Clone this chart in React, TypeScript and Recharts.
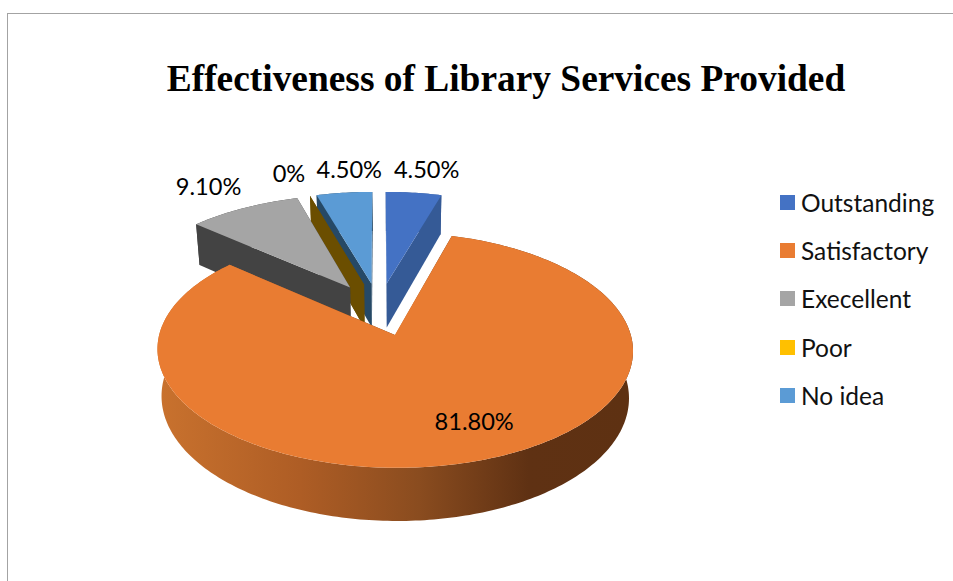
import React from 'react'
import { PieChart, Pie, Legend } from 'recharts'

// Categories in legend order, with their shares in percent
const categories = ['Outstanding', 'Satisfactory', 'Execellent', 'Poor', 'No idea']
const shares = [4.5, 81.8, 9.1, 0, 4.5]
const faceColors = ['#4472c4', '#e97c32', '#a5a5a5', '#ffc000', '#5b9bd5']
const wallColors = ['#355a96', 'url(#orangeWall)', '#434343', '#6b4e00', '#264966']

// Label nudges from the projected rim midpoint of each slice
const labelNudge: Record<string, [number, number]> = {
  Outstanding: [13, -24],
  Satisfactory: [1, -41],
  Execellent: [-35, -22],
  Poor: [-21, -23],
  'No idea': [5, -24],
}

// Painted counter-clockwise from 12 o'clock, so the large slice covers the ones behind it
const pieData = categories
  .map((name, i) => ({ name, value: shares[i], fill: faceColors[i], wall: wallColors[i] }))
  .reverse()

const WIDTH = 953
const HEIGHT = 581

// 3D look of the pie: perspective tilt, explode distance, thickness
const SQUASH = 0.477
const PERSPECTIVE = 0.125
const EXPLODE = 0.24
const THICKNESS = 45
const BOTTOM_SCALE = 0.983
const VANISH_X = 396

const rad = (deg: number) => (deg * Math.PI) / 180

function projector(cx: number, cy: number, radius: number) {
  const top = (u: number, v: number): [number, number] => {
    const w = 1 + PERSPECTIVE * v
    return [cx + (radius * u) / w, cy - (radius * SQUASH * v) / w]
  }
  const bottom = (u: number, v: number): [number, number] => {
    const w = 1 + PERSPECTIVE * v
    const [x, y] = top(u, v)
    return [VANISH_X + BOTTOM_SCALE * (x - VANISH_X), y + THICKNESS / w]
  }
  return { top, bottom }
}

const toPath = (pts: [number, number][]) =>
  'M' + pts.map(p => `${p[0].toFixed(2)},${p[1].toFixed(2)}`).join('L') + 'Z'

function Slice3D(props: any) {
  const { cx, cy, outerRadius, startAngle, endAngle, fill, payload } = props
  const { top, bottom } = projector(cx, cy, outerRadius)
  const mid = rad((startAngle + endAngle) / 2)
  const du = EXPLODE * Math.cos(mid)
  const dv = EXPLODE * Math.sin(mid)

  const rim: [number, number][] = []
  const steps = Math.max(1, Math.ceil(Math.abs(endAngle - startAngle)))
  for (let i = 0; i <= steps; i++) {
    const a = rad(startAngle + ((endAngle - startAngle) * i) / steps)
    rim.push([du + Math.cos(a), dv + Math.sin(a)])
  }
  const first = rim[0]
  const last = rim[rim.length - 1]

  const outerWall = [
    ...rim.map(p => top(p[0], p[1])),
    ...rim.slice().reverse().map(p => bottom(p[0], p[1])),
  ]
  const cutWall = (p: [number, number]) => [
    top(du, dv),
    top(p[0], p[1]),
    bottom(p[0], p[1]),
    bottom(du, dv),
  ]
  const face = [top(du, dv), ...rim.map(p => top(p[0], p[1]))]
  const wall = payload?.wall ?? props.wall

  return (
    <g>
      <path d={toPath(outerWall)} fill={wall} />
      <path d={toPath(cutWall(first))} fill={wall} />
      <path d={toPath(cutWall(last))} fill={wall} />
      <path d={toPath(face)} fill={fill} />
    </g>
  )
}

function SliceLabel(props: any) {
  const { cx, cy, outerRadius, midAngle, name, value } = props
  const { top } = projector(cx, cy, outerRadius)
  const a = rad(midAngle)
  const r = 1 + EXPLODE
  const [x, y] = top(r * Math.cos(a), r * Math.sin(a))
  const [dx, dy] = labelNudge[name] ?? [0, 0]
  return (
    <text
      x={x + dx}
      y={y + dy}
      textAnchor="middle"
      dominantBaseline="central"
      fontFamily="Lato, sans-serif"
      fontSize={23.6}
      fill="#000"
    >
      {value === 0 ? '0%' : `${value.toFixed(2)}%`}
    </text>
  )
}

function LegendList() {
  return (
    <div style={{ fontFamily: 'Lato, sans-serif', fontSize: 24.5, color: '#111' }}>
      {categories.map((name, i) => (
        <div key={name} style={{ display: 'flex', alignItems: 'center', height: 48.2 }}>
          <span style={{ width: 15, height: 15, background: faceColors[i], marginRight: 6 }} />
          {name}
        </div>
      ))}
    </div>
  )
}

export default function App() {
  return (
    <div style={{ position: 'absolute', left: 0, top: 0, width: WIDTH, height: HEIGHT, overflow: 'hidden', background: '#fff' }}>
      <div style={{ position: 'absolute', left: 7, top: 13, right: 0, bottom: 0, borderLeft: '1px solid #a3a3a3', borderTop: '1px solid #a3a3a3' }} />
      <PieChart width={WIDTH} height={HEIGHT} margin={{ top: 0, right: 0, bottom: 0, left: 0 }}>
        <defs>
          <linearGradient id="orangeWall" x1="0" y1="0" x2="1" y2="0">
            <stop offset="0%" stopColor="#c9722e" />
            <stop offset="30%" stopColor="#ae5d25" />
            <stop offset="55%" stopColor="#8a4c1f" />
            <stop offset="78%" stopColor="#5f3113" />
            <stop offset="100%" stopColor="#5e3112" />
          </linearGradient>
        </defs>
        <text
          x={506}
          y={91}
          textAnchor="middle"
          fontFamily="'Liberation Serif', serif"
          fontWeight="bold"
          fontSize={37.4}
          fill="#000"
        >
          Effectiveness of Library Services Provided
        </text>
        <Pie
          data={pieData}
          dataKey="value"
          nameKey="name"
          cx={379}
          cy={309}
          innerRadius={0}
          outerRadius={229}
          startAngle={90}
          endAngle={450}
          stroke="none"
          isAnimationActive={false}
          shape={Slice3D}
          label={SliceLabel}
          labelLine={false}
        />
        <Legend
          layout="vertical"
          align="right"
          verticalAlign="top"
          content={LegendList}
          wrapperStyle={{ left: 780, top: 178.5, width: 173 }}
        />
      </PieChart>
    </div>
  )
}
